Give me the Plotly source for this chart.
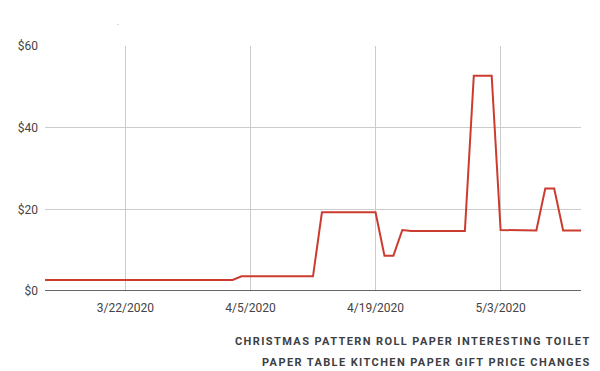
import pandas as pd
import plotly.graph_objects as go

start_date = "2020-03-13"
prices = (
    [2.69] * 22 +                      # 3/13 - 4/3
    [3.6] * 9 +                        # 4/4 - 4/12
    [19.27, 19.3, 19.35, 19.4, 19.35, 19.3, 19.3] +   # 4/13 - 4/19
    [8.65, 8.65] +                     # 4/20 - 4/21
    [14.94, 14.7, 14.75, 14.75, 14.7, 14.7, 14.7, 14.7] +  # 4/22 - 4/29
    [52.7, 52.7, 52.7] +               # 4/30 - 5/2
    [14.94, 14.9, 14.9, 14.85, 14.8] + # 5/3 - 5/7
    [25.1, 25.1] +                     # 5/8 - 5/9
    [14.8, 14.8, 14.8]                 # 5/10 - 5/12
)
dates = pd.date_range(start_date, periods=len(prices), freq="D")

tick_dates = ["2020-03-22", "2020-04-05", "2020-04-19", "2020-05-03"]
tick_labels = ["3/22/2020", "4/5/2020", "4/19/2020", "5/3/2020"]
y_ticks = [0, 20, 40, 60]
y_labels = ["$0", "$20", "$40", "$60"]

title_lines = ["CHRISTMAS PATTERN ROLL PAPER INTERESTING TOILET",
               "PAPER TABLE KITCHEN PAPER GIFT PRICE CHANGES"]

fig = go.Figure()
fig.add_trace(go.Scatter(x=dates, y=prices, mode="lines",
                         line=dict(color="#cc3b2f", width=2), hoverinfo="x+y"))

fig.update_layout(
    width=600, height=371,
    margin=dict(l=45, r=19, t=46, b=80),
    paper_bgcolor="white", plot_bgcolor="white",
    showlegend=False,
    font=dict(family="Roboto", size=12, color="#444444"),
    xaxis=dict(range=[dates[0], dates[-1]], tickvals=tick_dates, ticktext=tick_labels,
               showgrid=True, gridcolor="#cccccc", gridwidth=1, zeroline=False,
               showline=False, ticks="", ticklabelstandoff=8,
               tickfont=dict(size=12, color="#444444")),
    yaxis=dict(range=[0, 60], tickvals=y_ticks, ticktext=y_labels,
               showgrid=True, gridcolor="#cccccc", gridwidth=1,
               zeroline=False, showline=False, ticks="", ticklabelstandoff=6,
               tickfont=dict(size=12, color="#444444")),
    shapes=[dict(type="line", xref="paper", yref="y", x0=0, x1=1, y0=0, y1=0,
                 line=dict(color="#333333", width=1.5))],
)

ls = "letter-spacing:1.4px"
fig.add_annotation(xref="paper", yref="paper", x=1.022, y=-0.206, xanchor="right", yanchor="middle",
                   text=f'<span style="{ls}">{title_lines[0]}</span>', showarrow=False,
                   font=dict(family="Roboto", size=11, color="#3c4043", weight="bold"))
fig.add_annotation(xref="paper", yref="paper", x=1.022, y=-0.292, xanchor="right", yanchor="middle",
                   text=f'<span style="{ls}">{title_lines[1]}</span>', showarrow=False,
                   font=dict(family="Roboto", size=11, color="#3c4043", weight="bold"))
fig.add_annotation(xref="paper", yref="paper", x=0.136, y=1.09, xanchor="center", yanchor="middle",
                   text="-", showarrow=False, font=dict(family="Roboto", size=6, color="#777777"))

fig.write_html("out.html", config={"displayModeBar": False},
               post_script="document.body.style.margin='0';")
